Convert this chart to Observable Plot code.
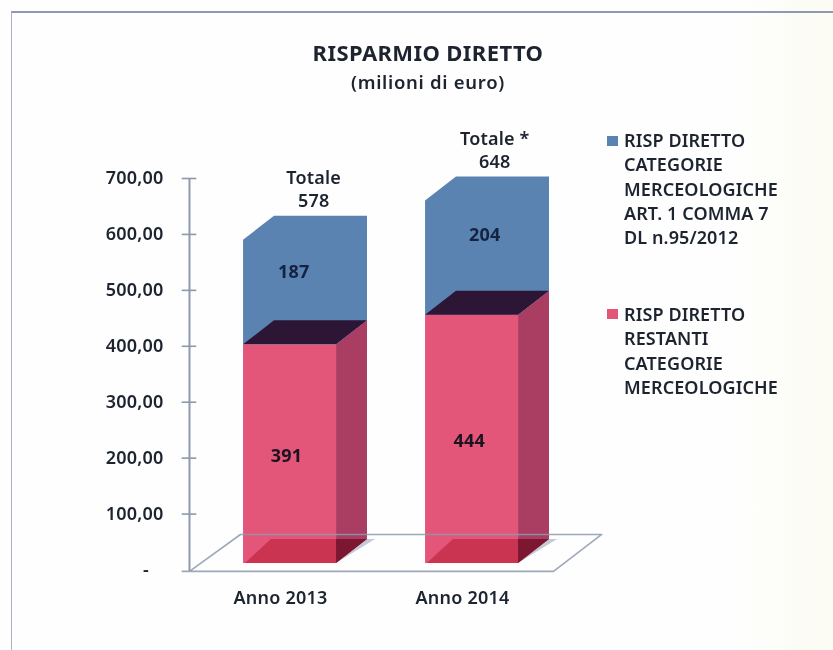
<!DOCTYPE html>
<html><head><meta charset="utf-8">
<script src="https://cdn.jsdelivr.net/npm/d3@7"></script>
<script src="https://cdn.jsdelivr.net/npm/@observablehq/plot@0.6"></script>
<style>
html,body{margin:0;padding:0;background:#fefefd;width:833px;height:650px;overflow:hidden}
#page{position:relative;width:833px;height:650px;font-family:"Noto Sans",sans-serif;color:#1d2430;filter:blur(.5px);background:linear-gradient(to right,#fefefe 88%,#fcfcf3)}
#frame{position:absolute;left:11px;top:11px;right:-4px;bottom:-4px;border:2px solid #8d9bb0;box-sizing:border-box;border-left-width:1.5px;border-left-color:#a9b3c2}
#title{position:absolute;left:228px;width:400px;top:37px;text-align:center;font-weight:700;font-size:22px;line-height:30px;letter-spacing:.4px}
#sub{position:absolute;left:228px;width:400px;top:68.5px;text-align:center;font-weight:600;font-size:18.5px;line-height:25px;letter-spacing:.7px}
.lg{position:absolute;left:624px;font-size:18px;line-height:24.3px;font-weight:600;white-space:pre;letter-spacing:.1px}
.sw{position:absolute;left:607px;width:11px;height:10px}
svg{position:absolute;left:0;top:0;overflow:visible;background:none !important}
svg text{letter-spacing:.2px}
</style></head><body>
<div id="page">
<div id="frame"></div>
<div id="title">RISPARMIO DIRETTO</div>
<div id="sub">(milioni di euro)</div>
<div class="sw" style="top:136px;background:#5b83b2"></div>
<div class="lg" style="top:128px">RISP DIRETTO
CATEGORIE
MERCEOLOGICHE
ART. 1 COMMA 7
DL n.95/2012</div>
<div class="sw" style="top:309px;background:#e4557a"></div>
<div class="lg" style="top:302px">RISP DIRETTO
RESTANTI
CATEGORIE
MERCEOLOGICHE</div>
<div id="chart"></div>
</div>
<script>
const years = ["Anno 2013", "Anno 2014"];
const restanti = [391, 444];
const art1 = [187, 204];
const totali = [578, 648];
const totalLabels = ["Totale\n578", "Totale *\n648"];
const yTicks = [0, 100, 200, 300, 400, 500, 600, 700];

// 3D projection, in scale units
const barLeft = 0.297, barW = 0.511, depthX = 0.17, depthY = 43, base = 11.6;
const floorDX = 0.28, floorDY = 66, floorY = -2.5;
const axisC = "#8c99ae", txt = "#1d2430";
const C = {blue:"#5b83b2", red:"#e4557a", redSide:"#a93e62", redTop:"#2c1535", baseF:"#cb3450", baseS:"#7c1631"};

const x0 = i => i + barLeft, x1 = i => i + barLeft + barW;
const hexa = (i, lo, hi) => [
  {x:x0(i), y1:lo, y2:hi},
  {x:x0(i)+depthX, y1:lo, y2:hi+depthY},
  {x:x1(i), y1:lo, y2:hi+depthY},
  {x:x1(i)+depthX, y1:lo+depthY, y2:hi+depthY}];
const side = (i, lo, hi) => [
  {x:x1(i), y1:lo, y2:hi},
  {x:x1(i)+depthX, y1:lo+depthY, y2:hi+depthY}];
const topFace = (i, v) => hexa(i, v, v);
const baseLeft = (i, v) => [
  {x:x0(i)+.01, y1:v, y2:v},
  {x:x0(i)+depthX*.9, y1:v, y2:v+depthY},
  {x:x1(i), y1:v, y2:v+depthY}];
const baseRight = (i, v) => [
  {x:x1(i), y1:v, y2:v+depthY},
  {x:x1(i)+depthX, y1:v+depthY, y2:v+depthY}];
const shadow = (i, v, w = .045) => [
  {x:x1(i), y1:v, y2:v},
  {x:x1(i)+depthX, y1:v+depthY*depthX/(depthX+w), y2:v+depthY},
  {x:x1(i)+depthX+w, y1:v+depthY, y2:v+depthY}];
const area = (fn, fill) => Plot.areaY(years.flatMap((_, i) => fn(i).map(d => ({...d, id:i}))),
  {x:"x", y1:"y1", y2:"y2", z:"id", fill});

const idx = years.map((_, i) => i);
const floorPts = [
  {x:0, y:floorY}, {x:floorDX, y:floorY+floorDY},
  {x:2+floorDX-.015, y:floorY+floorDY}, {x:2, y:floorY}, {x:-0.04, y:floorY}];
const nudgeBlue = [0.02, 0.07], nudgeRed = [-0.02, -0.015], nudgeTot = [0.13, 0.125];
const dyBlue = [4, 1];

const chart = Plot.plot({
  width:833, height:650, marginLeft:189, marginRight:280, marginTop:178, marginBottom:80.5,
  x:{domain:[0,2], axis:null},
  y:{domain:[0,700], axis:null},
  style:{background:"transparent", fontFamily:'"Noto Sans",sans-serif'},
  marks:[
    // floor and axis
    Plot.ruleX([0], {y1:floorY, y2:700, stroke:axisC, strokeWidth:2}),
    Plot.ruleY(yTicks.slice(1), {x1:-.04, x2:.04, stroke:axisC, strokeWidth:1.6}),
    area(i => shadow(i, base), "#c3cbd9"),
    // red stack
    Plot.rectY(idx, {x1:x0, x2:x1, y1:()=>base, y2:i=>base+restanti[i], fill:C.red}),
    area(i => side(i, base, base+restanti[i]), C.redSide),
    area(i => baseLeft(i, base), C.baseF),
    area(i => baseRight(i, base), C.baseS),
    // blue stack
    area(i => hexa(i, base+restanti[i], base+totali[i]), C.blue),
    // dark top of red
    area(i => topFace(i, base+restanti[i]), C.redTop),
    // floor outline
    Plot.line(floorPts, {x:"x", y:"y", stroke:axisC, strokeWidth:1.6, strokeOpacity:.85}),
    // axes text
    Plot.axisY(yTicks, {anchor:"left", tickSize:0, tickPadding:26,
      tickFormat:d => d === 0 ? "-\u00a0\u00a0\u00a0" : d.toFixed(2).replace(".", ","),
      fontSize:18, fontWeight:600, fill:txt, label:null}),
    Plot.axisX([.5,1.5], {anchor:"bottom", tickSize:0, tickPadding:21,
      tickFormat:d => years[Math.floor(d)], fontSize:18, fontWeight:600, fill:txt, label:null}),
    // labels
    Plot.text(idx, {x:i => (x0(i)+x1(i))/2 + nudgeRed[i], y:i => base+restanti[i]/2, dy:2,
      text:i => restanti[i], fontSize:18, fontWeight:700, fill:"#1a1420"}),
    Plot.text(idx.slice(0,1), {x:i => (x0(i)+x1(i))/2 + nudgeBlue[i], y:i => base+restanti[i]+art1[i]/2+depthY, dy:dyBlue[0],
      text:i => art1[i], fontSize:18, fontWeight:700, fill:"#14233f"}),
    Plot.text(idx.slice(1), {x:i => (x0(i)+x1(i))/2 + nudgeBlue[i], y:i => base+restanti[i]+art1[i]/2+depthY, dy:dyBlue[1],
      text:i => art1[i], fontSize:18, fontWeight:700, fill:"#14233f"}),
    Plot.text(idx, {x:i => (x0(i)+x1(i))/2 + nudgeTot[i], y:i => base+totali[i]+depthY, dy:-9,
      lineAnchor:"bottom", lineHeight:1.3, text:i => totalLabels[i], fontSize:18, fontWeight:600, fill:txt})
  ]
});
document.getElementById("chart").append(chart);
</script>
</body></html>
